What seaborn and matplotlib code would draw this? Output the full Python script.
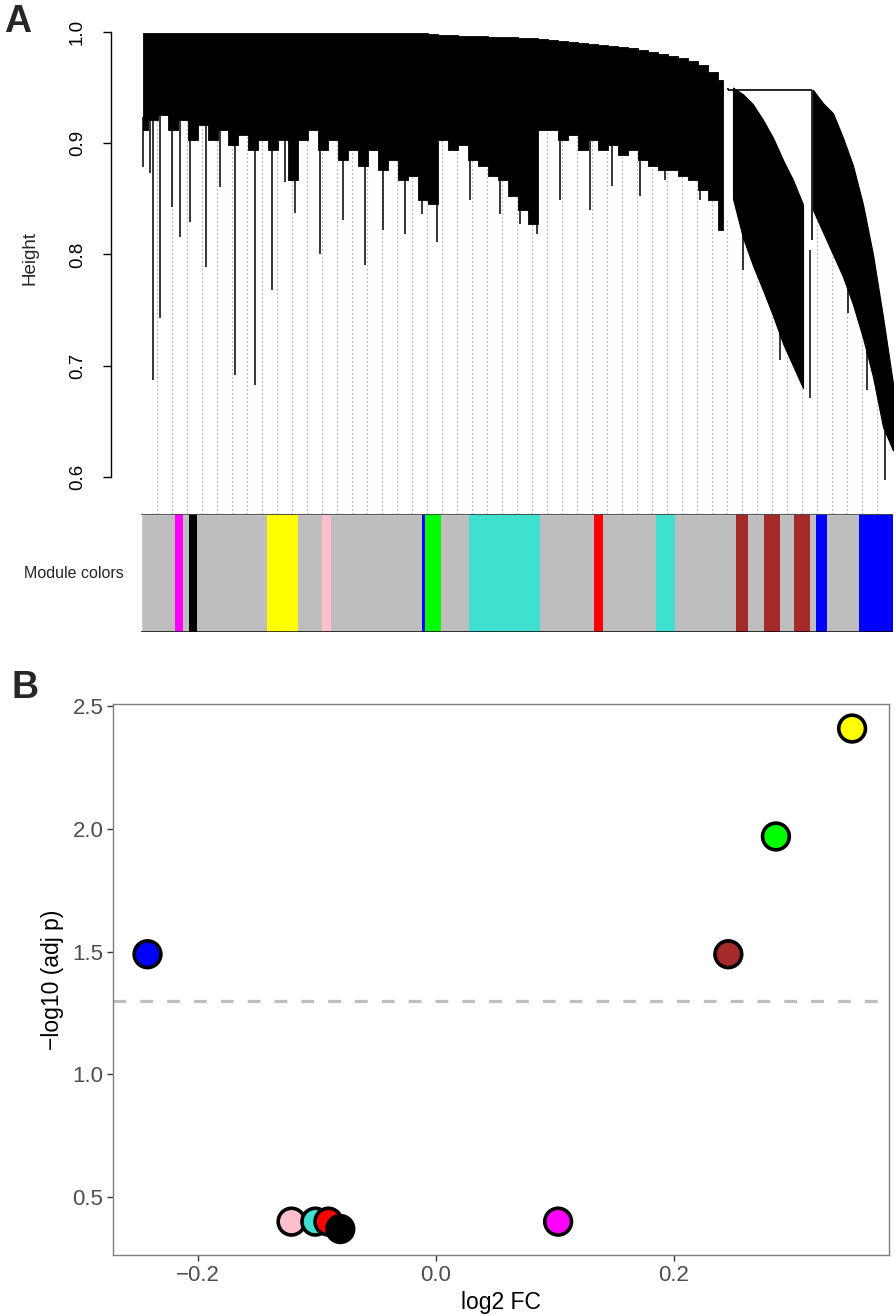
import numpy as np
import pandas as pd
import matplotlib
matplotlib.use("Agg")
import matplotlib.pyplot as plt
import seaborn as sns

sns.set_theme(style="ticks")
plt.rcParams['font.family'] = ['Liberation Sans', 'DejaVu Sans']

# ---------------- Panel A data (dendrogram) ----------------
# dense part of the tree, three clusters: leaf-order position, upper height, lower height
cl1_pos = [2, 12, 22, 32, 42, 52, 62, 72, 82, 92, 102, 112, 122, 132, 142, 152, 162, 172, 182, 192,
           202, 212, 222, 232, 242, 252, 262, 272, 282, 292, 302, 312, 322, 332, 342, 352, 362, 372,
           382, 392, 402, 412, 422, 432, 442, 452, 462, 472, 482, 492, 502, 512, 522, 532, 542, 552,
           562, 572, 582]
cl1_top = [0.999] * 29 + [0.998, 0.997, 0.997, 0.996, 0.996, 0.996, 0.9955, 0.9955, 0.9955, 0.995,
                          0.995, 0.994, 0.993, 0.992, 0.991, 0.990, 0.989, 0.988, 0.987, 0.9865,
                          0.986, 0.984, 0.982, 0.980, 0.978, 0.977, 0.974, 0.970, 0.964, 0.957]
cl1_low = [0.912, 0.921, 0.925, 0.912, 0.921, 0.903, 0.916, 0.903, 0.912, 0.898, 0.907, 0.894, 0.903,
           0.894, 0.903, 0.867, 0.903, 0.912, 0.894, 0.903, 0.885, 0.894, 0.880, 0.894, 0.876, 0.885,
           0.867, 0.871, 0.849, 0.845, 0.903, 0.894, 0.898, 0.885, 0.880, 0.871, 0.867, 0.853, 0.840,
           0.827, 0.912, 0.912, 0.903, 0.907, 0.894, 0.903, 0.894, 0.898, 0.889, 0.894, 0.885, 0.880,
           0.876, 0.876, 0.871, 0.867, 0.858, 0.849, 0.822]
cl2_pos = [592, 602, 612, 622, 632, 642, 652, 662]
cl2_top = [0.950, 0.944, 0.935, 0.921, 0.905, 0.885, 0.867, 0.845]
cl2_low = [0.850, 0.815, 0.790, 0.768, 0.745, 0.720, 0.700, 0.680]
cl3_pos = [672, 682, 692, 702, 712, 722, 732, 742, 752]
cl3_top = [0.948, 0.936, 0.927, 0.905, 0.880, 0.845, 0.800, 0.744, 0.684]
cl3_low = [0.840, 0.820, 0.800, 0.780, 0.755, 0.725, 0.690, 0.645, 0.624]

# long single leaves hanging below the dense part
spike_pos = [2, 9, 12, 19, 31, 39, 49, 65, 79, 94, 114, 131, 144, 154, 179, 202, 224, 242, 264, 281,
             296, 329, 359, 379, 396, 419, 449, 471, 499, 524, 559, 602, 639, 669, 707, 726, 744, 752]
spike_low = [0.879, 0.873, 0.687, 0.743, 0.843, 0.816, 0.829, 0.789, 0.861, 0.692, 0.683, 0.768,
             0.865, 0.837, 0.800, 0.831, 0.791, 0.822, 0.818, 0.836, 0.811, 0.849, 0.836, 0.827,
             0.818, 0.849, 0.840, 0.862, 0.853, 0.867, 0.849, 0.786, 0.705, 0.671, 0.747, 0.678,
             0.597, 0.624]
merge_height = 0.948
merge_from, merge_to = 587, 671
merge_drop = 0.813

# module colour bar under the tree
mod_color = ['magenta', 'black', 'yellow', 'pink', 'blue', 'green', 'turquoise', 'grey', 'red',
             'turquoise', 'grey', 'brown', 'brown', 'brown', 'blue', 'blue']
mod_start = [34, 48, 126, 181, 281, 284, 328, 337.6, 453, 515, 529.6, 595, 623, 653, 675, 718]
mod_end = [42, 56, 157, 190, 284, 300, 399, 338.4, 462, 534, 530.4, 607, 639, 669, 686, 752]
n_leaves = 752

r_colors = {'magenta': '#FF00FF', 'black': '#000000', 'yellow': '#FFFF00', 'pink': '#FFC0CB',
            'blue': '#0000FF', 'green': '#00FF00', 'turquoise': '#40E0D0', 'grey': '#BEBEBE',
            'red': '#FF0000', 'brown': '#A52A2A'}

# ---------------- Panel B data ----------------
modules = ['blue', 'brown', 'green', 'yellow', 'magenta', 'pink', 'turquoise', 'red', 'black']
log2fc = [-0.242, 0.246, 0.286, 0.350, 0.103, -0.121, -0.101, -0.090, -0.080]
neglog10p = [1.49, 1.49, 1.97, 2.41, 0.40, 0.40, 0.40, 0.40, 0.37]
sig_line = -np.log10(0.05)

# ---------------- figure ----------------
W, H = 896, 1316
fig = plt.figure(figsize=(W / 100, H / 100), dpi=100)


def px_axes(l, t, r, b):
    return fig.add_axes([l / W, 1 - b / H, (r - l) / W, (b - t) / H])


# --- dendrogram ---
axd = px_axes(141, 25, 893, 514)
axd.set_xlim(0, n_leaves)
axd.set_ylim(0.6 - 37 / 1112.5, 1.0 + 7 / 1112.5)
axd.patch.set_visible(False)

all_pos = np.array(cl1_pos + cl2_pos + cl3_pos, dtype=float)
all_low = np.array(cl1_low + cl2_low + cl3_low)
ybot = axd.get_ylim()[0]

guides = np.arange(15.7, n_leaves - 5, 15)
near = all_low[np.abs(all_pos[None, :] - guides[:, None]).argmin(axis=1)]
g_top = np.maximum(np.interp(guides, all_pos, all_low), near)
axd.vlines(guides, ybot, g_top, colors='#9a9a9a', linestyles=(0, (1, 2.2)), lw=0.9, zorder=1)

s_top = np.interp(spike_pos, all_pos, all_low) + 0.012
axd.vlines(spike_pos, spike_low, s_top, colors='black', lw=1.1, zorder=2)

axd.fill_between(cl1_pos, cl1_low, cl1_top, step='mid', color='black', lw=0.6, zorder=3)
for p, t, lo in [(cl2_pos, cl2_top, cl2_low), (cl3_pos, cl3_top, cl3_low)]:
    axd.fill_between(p, lo, t, color='black', lw=0.8, zorder=3)
axd.hlines(merge_height, merge_from, merge_to, colors='black', lw=1.2, zorder=3)
axd.vlines([merge_from, merge_to], [cl2_top[0], merge_drop], merge_height, colors='black', lw=1.2, zorder=3)

for s in ['top', 'right', 'bottom']:
    axd.spines[s].set_visible(False)
axd.spines['left'].set_position(('outward', 21.6))
axd.spines['left'].set_bounds(0.6, 1.0)
axd.spines['left'].set_color('black')
axd.spines['left'].set_linewidth(1.0)
axd.set_xticks([])
axd.set_yticks([0.6, 0.7, 0.8, 0.9, 1.0])
axd.set_yticklabels(['0.6', '0.7', '0.8', '0.9', '1.0'], rotation=90, va='center')
axd.tick_params(axis='y', length=6, width=1.0, pad=12, labelsize=13.5, colors='black')
fig.text(30 / W, 1 - 258 / H, 'Height', rotation=90, ha='center', va='center', fontsize=13.5)

# --- module colour bar ---
axc = px_axes(141, 514, 893, 632)
axc.set_xlim(0, n_leaves)
axc.set_ylim(0, 1)
axc.broken_barh([(0, n_leaves)], (0, 1), facecolors=r_colors['grey'])
for c, s0, e0 in zip(mod_color, mod_start, mod_end):
    axc.broken_barh([(s0, e0 - s0)], (0, 1), facecolors=r_colors[c], edgecolor='none')
axc.axhline(1, color='#444444', lw=1.3)
axc.axhline(0, color='black', lw=1.8)
axc.set_xticks([]); axc.set_yticks([])
for s in axc.spines.values():
    s.set_visible(False)
fig.text(74 / W, 1 - 573 / H, 'Module colors', ha='center', va='center', fontsize=11.5)

fig.text(4 / W, 1 - 22 / H, 'A', fontsize=27, fontweight='bold', ha='left', va='center')

# --- Panel B scatter ---
axs = px_axes(113, 704, 889, 1255)
df = pd.DataFrame({'module': modules, 'log2FC': log2fc, 'neglog10p': neglog10p})
axs.axhline(sig_line, color='#BEBEBE', lw=2.3, dashes=(4, 4.4), zorder=1)
sns.scatterplot(data=df, x='log2FC', y='neglog10p', hue='module',
                palette={m: r_colors[m] for m in modules}, s=370, edgecolor='black',
                linewidth=2.6, legend=False, ax=axs, zorder=3)
axs.set_xlim(-0.271, 0.381)
axs.set_ylim(0.264, 2.51)
axs.set_xticks([-0.2, 0.0, 0.2])
axs.set_xticklabels(['\u22120.2', '0.0', '0.2'])
axs.set_yticks([0.5, 1.0, 1.5, 2.0, 2.5])
axs.set_yticklabels(['0.5', '1.0', '1.5', '2.0', '2.5'])
axs.tick_params(length=4, width=1.0, colors='#333333', labelcolor='#4D4D4D', labelsize=16, pad=3)
for s in axs.spines.values():
    s.set_color('#7F7F7F')
    s.set_linewidth(1.0)
axs.set_xlabel('log2 FC', fontsize=16.5, color='black', labelpad=4)
axs.set_ylabel('\u2212log10 (adj p)', fontsize=16.5, color='black', labelpad=6)
fig.text(12 / W, 1 - 688 / H, 'B', fontsize=27, fontweight='bold', ha='left', va='center')

fig.savefig('out.png', dpi=100)
